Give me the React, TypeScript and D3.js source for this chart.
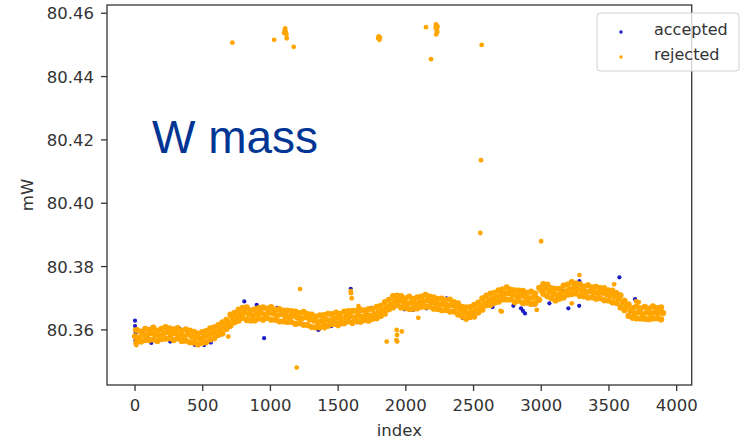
import React from 'react';
import * as d3 from 'd3';

const xTicks = [0, 500, 1000, 1500, 2000, 2500, 3000, 3500, 4000];
const yTicks = [80.36, 80.38, 80.40, 80.42, 80.44, 80.46];

// rejected band: mid values at index 0,30,...,3900
const bandMid = [
  80.3580, 80.3576, 80.3585, 80.3583, 80.3590, 80.3586, 80.3581, 80.3588, 80.3593, 80.3587,
  80.3590, 80.3584, 80.3580, 80.3586, 80.3579, 80.3575, 80.3572, 80.3578, 80.3583, 80.3589,
  80.3595, 80.3603, 80.3611, 80.3622, 80.3636, 80.3641, 80.3650, 80.3656, 80.3649, 80.3645,
  80.3650, 80.3654, 80.3648, 80.3655, 80.3652, 80.3646, 80.3650, 80.3644, 80.3641, 80.3645,
  80.3639, 80.3636, 80.3640, 80.3633, 80.3630, 80.3625, 80.3628, 80.3632, 80.3630, 80.3636,
  80.3638, 80.3634, 80.3641, 80.3643, 80.3639, 80.3645, 80.3642, 80.3648, 80.3645, 80.3650,
  80.3656, 80.3662, 80.3672, 80.3680, 80.3690, 80.3694, 80.3688, 80.3683, 80.3686, 80.3682,
  80.3686, 80.3690, 80.3693, 80.3688, 80.3684, 80.3680, 80.3682, 80.3676, 80.3678, 80.3672,
  80.3665, 80.3656, 80.3652, 80.3658, 80.3662, 80.3672, 80.3684, 80.3694, 80.3698, 80.3703,
  80.3708, 80.3714, 80.3716, 80.3711, 80.3706, 80.3709, 80.3704, 80.3700, 80.3702, 80.3699,
  80.3725, 80.3731, 80.3722, 80.3714, 80.3710, 80.3716, 80.3722, 80.3728, 80.3733, 80.3730,
  80.3724, 80.3720, 80.3722, 80.3718, 80.3716, 80.3718, 80.3713, 80.3709, 80.3705, 80.3700,
  80.3686, 80.3675, 80.3660, 80.3652, 80.3656, 80.3650, 80.3655, 80.3651, 80.3656, 80.3654,
  80.3653,
];

// rejected band upper edge at index 15,45,...,3885
const bandHi = [
  80.3599, 80.3595, 80.3603, 80.3600, 80.3607, 80.3598, 80.3603, 80.3609, 80.3605, 80.3602,
  80.3606, 80.3597, 80.3602, 80.3598, 80.3594, 80.3588, 80.3593, 80.3596, 80.3605, 80.3608,
  80.3615, 80.3624, 80.3632, 80.3648, 80.3654, 80.3664, 80.3670, 80.3671, 80.3662, 80.3665,
  80.3669, 80.3671, 80.3667, 80.3672, 80.3664, 80.3666, 80.3661, 80.3661, 80.3659, 80.3658,
  80.3653, 80.3657, 80.3650, 80.3648, 80.3642, 80.3646, 80.3647, 80.3651, 80.3650, 80.3655,
  80.3651, 80.3658, 80.3659, 80.3660, 80.3660, 80.3663, 80.3662, 80.3666, 80.3666, 80.3673,
  80.3676, 80.3688, 80.3695, 80.3707, 80.3708, 80.3707, 80.3700, 80.3705, 80.3698, 80.3703,
  80.3705, 80.3711, 80.3705, 80.3703, 80.3698, 80.3699, 80.3694, 80.3696, 80.3688, 80.3684,
  80.3673, 80.3671, 80.3672, 80.3679, 80.3686, 80.3700, 80.3708, 80.3715, 80.3717, 80.3725,
  80.3728, 80.3734, 80.3727, 80.3725, 80.3724, 80.3723, 80.3717, 80.3721, 80.3715, 80.3733,
  80.3745, 80.3743, 80.3732, 80.3730, 80.3730, 80.3740, 80.3743, 80.3751, 80.3746, 80.3744,
  80.3737, 80.3741, 80.3734, 80.3736, 80.3732, 80.3732, 80.3725, 80.3724, 80.3716, 80.3709,
  80.3692, 80.3681, 80.3669, 80.3674, 80.3668, 80.3673, 80.3667, 80.3674, 80.3669, 80.3671,
];

// rejected band lower edge at index 15,45,...,3885
const bandLo = [
  80.3564, 80.3563, 80.3568, 80.3568, 80.3570, 80.3565, 80.3571, 80.3572, 80.3574, 80.3568,
  80.3573, 80.3565, 80.3566, 80.3561, 80.3560, 80.3554, 80.3559, 80.3561, 80.3570, 80.3574,
  80.3584, 80.3589, 80.3603, 80.3613, 80.3624, 80.3629, 80.3638, 80.3631, 80.3630, 80.3630,
  80.3636, 80.3632, 80.3638, 80.3632, 80.3632, 80.3627, 80.3627, 80.3625, 80.3625, 80.3619,
  80.3621, 80.3616, 80.3615, 80.3609, 80.3608, 80.3608, 80.3615, 80.3613, 80.3619, 80.3619,
  80.3620, 80.3621, 80.3627, 80.3622, 80.3628, 80.3626, 80.3631, 80.3629, 80.3635, 80.3637,
  80.3644, 80.3651, 80.3665, 80.3671, 80.3678, 80.3671, 80.3670, 80.3666, 80.3667, 80.3668,
  80.3673, 80.3673, 80.3674, 80.3667, 80.3666, 80.3662, 80.3663, 80.3658, 80.3658, 80.3649,
  80.3643, 80.3635, 80.3641, 80.3642, 80.3655, 80.3664, 80.3678, 80.3679, 80.3686, 80.3689,
  80.3696, 80.3696, 80.3696, 80.3688, 80.3692, 80.3685, 80.3686, 80.3682, 80.3683, 80.3695,
  80.3714, 80.3706, 80.3700, 80.3693, 80.3699, 80.3702, 80.3711, 80.3713, 80.3715, 80.3707,
  80.3706, 80.3702, 80.3703, 80.3698, 80.3700, 80.3694, 80.3693, 80.3687, 80.3685, 80.3671,
  80.3662, 80.3644, 80.3638, 80.3636, 80.3636, 80.3635, 80.3634, 80.3636, 80.3637, 80.3633,
];

// rejected outliers [index, mW]
const rejectedExtra: [number, number][] = [
  [719, 80.4507], [1027, 80.4516], [1100, 80.4538], [1106, 80.4547], [1112, 80.4542],
  [1118, 80.4533], [1109, 80.4552], [1120, 80.4521], [1172, 80.4494], [1795, 80.4522],
  [1802, 80.4519], [1808, 80.4524], [1800, 80.4527], [1805, 80.4516], [2149, 80.4556],
  [2220, 80.4555], [2225, 80.4562], [2230, 80.4550], [2234, 80.4558], [2228, 80.4545],
  [2223, 80.4565], [2232, 80.4541], [2224, 80.4533], [2186, 80.4455], [2560, 80.4500],
  [2555, 80.4136], [2550, 80.3906], [2999, 80.3880], [1219, 80.3729], [1593, 80.3722],
  [1595, 80.3716], [1600, 80.3700], [689, 80.3579], [1859, 80.3563], [1932, 80.3600],
  [1935, 80.3584], [1930, 80.3568], [1936, 80.3563], [1970, 80.3595], [1194, 80.3481],
  [3282, 80.3773], [3538, 80.3744], [2708, 80.3658], [2967, 80.3663], [2092, 80.3638],
  [3225, 80.3684], [1400, 80.3605], [1500, 80.3612], [1650, 80.3675], [2470, 80.3640],
  [2700, 80.3660], [3700, 80.3690], [3720, 80.3688], [3120, 80.3695], [0, 80.3600],
  [4, 80.3557], [10, 80.3552],
];

// accepted points [index, mW]
const accepted: [number, number][] = [
  [0, 80.3629], [0, 80.3612], [3, 80.3566], [5, 80.3590], [8, 80.3575],
  [120, 80.3559], [260, 80.3563], [330, 80.3603], [440, 80.3553], [510, 80.3552],
  [560, 80.3560], [640, 80.3586], [690, 80.3608], [760, 80.3628], [807, 80.3690],
  [899, 80.3679], [953, 80.3574], [1050, 80.3670], [1180, 80.3618], [1354, 80.3600],
  [1360, 80.3604], [1450, 80.3612], [1593, 80.3730], [1640, 80.3624], [1750, 80.3670],
  [1990, 80.3665], [2031, 80.3663], [2056, 80.3663], [2150, 80.3668], [2300, 80.3700],
  [2420, 80.3638], [2500, 80.3646], [2640, 80.3672], [2720, 80.3718], [2794, 80.3676],
  [2850, 80.3668], [2865, 80.3660], [2880, 80.3652], [2950, 80.3680], [3060, 80.3684],
  [3150, 80.3724], [3200, 80.3668], [3280, 80.3676], [3282, 80.3754], [3420, 80.3698],
  [3577, 80.3766], [3693, 80.3697], [3760, 80.3634], [3779, 80.3634], [3850, 80.3636],
  [3880, 80.3662],
];

const ORANGE = '#FFA500';
const BLUE = '#1c1cc4';
const FONT = 'DejaVu Sans, sans-serif';

export default function App() {
  const x = d3.scaleLinear().domain([-207, 4111]).range([107, 691.7]);
  const y = d3.scaleLinear().domain([80.3426, 80.4626]).range([385, 5]);
  const [x0, x1] = x.range();
  const [y0, y1] = y.range();

  const midIdx = d3.range(0, 3901, 30);
  const edgeIdx = d3.range(15, 3900, 30);

  const band: [number, number][] = [
    ...bandMid.map((v, i) => [midIdx[i], v] as [number, number]),
    ...bandHi.map((v, i) => [edgeIdx[i], v] as [number, number]),
    ...bandLo.map((v, i) => [edgeIdx[i], v] as [number, number]),
  ];

  return (
    <svg width={747} height={442} style={{ position: 'absolute', left: 0, top: 0, background: '#fff' }}>
      <rect x={0} y={0} width={747} height={442} fill="#fff" />
      {/* accepted */}
      <g>
        {accepted.map((d, i) => (
          <circle key={'a' + i} cx={x(d[0])} cy={y(d[1])} r={2.1} fill={BLUE} />
        ))}
      </g>
      {/* rejected */}
      <g>
        {band.map((d, i) => (
          <circle key={'b' + i} cx={x(d[0])} cy={y(d[1])} r={3.1} fill={ORANGE} />
        ))}
        {rejectedExtra.map((d, i) => (
          <circle key={'r' + i} cx={x(d[0])} cy={y(d[1])} r={2.4} fill={ORANGE} />
        ))}
      </g>
      {/* spines */}
      <rect x={x0} y={y1} width={x1 - x0} height={y0 - y1} fill="none" stroke="#333" strokeWidth={1.3} />
      {/* y ticks */}
      {yTicks.map((t) => (
        <g key={'y' + t}>
          <line x1={x0 - 6} x2={x0} y1={y(t)} y2={y(t)} stroke="#333" strokeWidth={1.3} />
          <text x={x0 - 13} y={y(t)} dy="0.36em" textAnchor="end" fontFamily={FONT} fontSize={16.5} fill="#333">
            {d3.format('.2f')(t)}
          </text>
        </g>
      ))}
      {/* x ticks */}
      {xTicks.map((t) => (
        <g key={'x' + t}>
          <line x1={x(t)} x2={x(t)} y1={y0} y2={y0 + 6} stroke="#333" strokeWidth={1.3} />
          <text x={x(t)} y={y0 + 26} textAnchor="middle" fontFamily={FONT} fontSize={16.5} fill="#333">
            {t}
          </text>
        </g>
      ))}
      <text x={(x0 + x1) / 2} y={436} textAnchor="middle" fontFamily={FONT} fontSize={16.5} fill="#333">index</text>
      <text transform={`translate(33, ${(y0 + y1) / 2}) rotate(-90)`} textAnchor="middle" fontFamily={FONT} fontSize={16.5} fill="#333">mW</text>
      {/* W mass label */}
      <text x={152} y={153} fontFamily="Liberation Sans, Arial, sans-serif" fontSize={46} fill="#003594">W mass</text>
      {/* legend */}
      <g>
        <rect x={597} y={13} width={142} height={58} rx={3} fill="#fff" fillOpacity={0.8} stroke="#d0d0d0" strokeWidth={1} />
        <circle cx={621} cy={32} r={1.7} fill={BLUE} />
        <text x={654} y={35} fontFamily={FONT} fontSize={16} fill="#333">accepted</text>
        <circle cx={621} cy={57} r={1.7} fill={ORANGE} />
        <text x={654} y={60} fontFamily={FONT} fontSize={16} fill="#333">rejected</text>
      </g>
    </svg>
  );
}
